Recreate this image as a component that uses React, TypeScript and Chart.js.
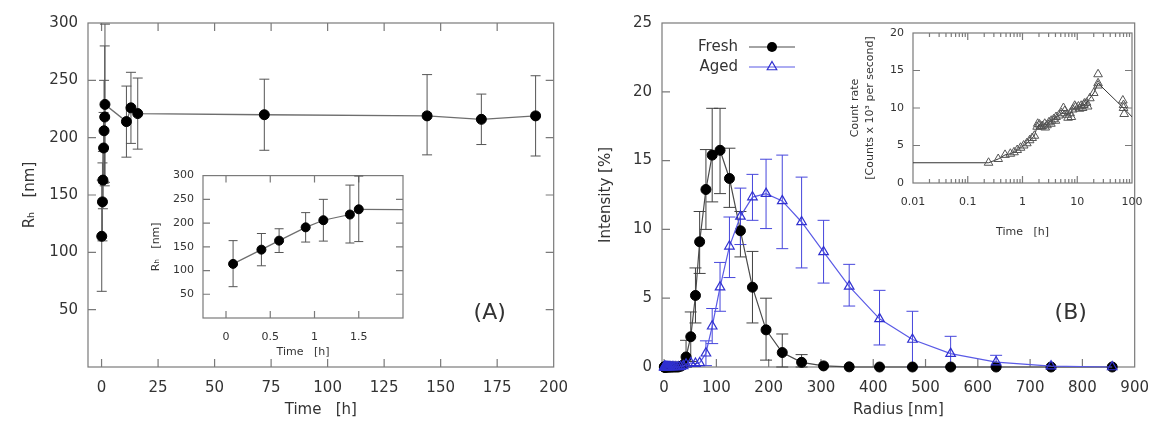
import React, { useEffect, useRef } from 'react';
import { Chart, registerables } from 'chart.js';

Chart.register(...registerables);

const FONT = "'DejaVu Sans', Verdana, sans-serif";
const TEXT = '#333333';
const FRAME = '#7a7a7a';

// ---------------- Panel A : hydrodynamic radius vs time ----------------
const timeA = [0.08, 0.4, 0.6, 0.9, 1.1, 1.4, 1.5, 11, 13, 16, 72, 144, 168, 192];
const rhA = [114, 144, 163, 191, 206, 218, 229, 214, 226, 221, 220, 219, 216, 219];
const rhLowA = [66, 110, 138, 160, 162, 158, 161, 183, 195, 190, 189, 185, 194, 184];
const rhHighA = [163, 178, 188, 222, 250, 280, 299, 245, 257, 252, 251, 255, 238, 254];
const xTicksA = [0, 25, 50, 75, 100, 125, 150, 175, 200];
const yTicksA = [50, 100, 150, 200, 250, 300];
const xTicksInsetA = [0, 0.5, 1, 1.5];
const yTicksInsetA = [50, 100, 150, 200, 250, 300];

// ---------------- Panel B : size distributions ----------------
const radiusB = [
  0.4, 0.6, 0.8, 1.0, 1.3, 1.6, 2.0, 2.5, 3.1, 3.8,
  4.7, 5.8, 7.1, 8.7, 10.6, 12.9, 15.6, 18.8, 22.6, 27.0,
  31.5, 36.5,
  42, 51, 60, 68, 80, 92, 107, 125, 146, 169,
  195, 226, 263, 305, 354, 412, 475, 548, 635, 740,
  857,
];
const freshB = [
  0, 0, 0, 0, 0, 0, 0, 0, 0, 0,
  0, 0, 0, 0, 0, 0, 0, 0, 0, 0,
  0.05, 0.15,
  0.73, 2.2, 5.2, 9.1, 12.9, 15.4, 15.75, 13.7, 9.9, 5.8,
  2.7, 1.05, 0.34, 0.08, 0.01, 0, 0, 0, 0, 0,
  0,
];
const freshLowB = [
  null, null, null, null, null, null, null, null, null, null,
  null, null, null, null, null, null, null, null, null, null,
  null, null,
  0, 0.4, 3.2, 6.8, 10.0, 12.0, 12.6, 11.6, 8.0, 3.2,
  0.5, 0, 0, null, null, null, null, null, null, null,
  null,
];
const freshHighB = [
  null, null, null, null, null, null, null, null, null, null,
  null, null, null, null, null, null, null, null, null, null,
  null, null,
  1.94, 4.0, 7.2, 11.3, 15.8, 18.8, 18.8, 15.9, 11.3, 8.4,
  5.0, 2.4, 0.9, null, null, null, null, null, null, null,
  null,
];
const agedB = [
  0, 0, 0, 0, 0, 0, 0, 0, 0, 0,
  0, 0, 0, 0, 0, 0, 0, 0, 0, 0,
  0.02, 0.08,
  0.2, 0.3, 0.25, 0.3, 1.0, 2.96, 5.8, 8.77, 10.95, 12.35,
  12.6, 12.07, 10.54, 8.36, 5.86, 3.5, 2.0, 0.97, 0.36, 0.06,
  0,
];
const agedLowB = [
  null, null, null, null, null, null, null, null, null, null,
  null, null, null, null, null, null, null, null, null, null,
  null, null,
  null, null, null, null, 0.1, 1.7, 4.05, 6.5, 8.9, 10.66,
  10.06, 8.6, 7.2, 6.1, 4.43, 1.6, 0, 0, 0, null,
  null,
];
const agedHighB = [
  null, null, null, null, null, null, null, null, null, null,
  null, null, null, null, null, null, null, null, null, null,
  null, null,
  null, null, null, null, 1.9, 4.25, 7.6, 10.9, 13.0, 14.0,
  15.1, 15.4, 13.8, 10.66, 7.46, 5.57, 4.05, 2.23, 0.85, null,
  null,
];
const xTicksB = [0, 100, 200, 300, 400, 500, 600, 700, 800, 900];
const yTicksB = [0, 5, 10, 15, 20, 25];

// ---------------- Inset B : count rate vs time (log) ----------------
const timeInsetB = [
  0.001, 0.24, 0.36, 0.48, 0.6, 0.7, 0.8, 0.92, 1.05, 1.2,
  1.35, 1.5, 1.65, 1.85, 2.05, 2.3, 2.55, 2.8, 3.05, 3.35,
  3.7, 4.1, 4.6, 5.2, 5.9, 6.6, 7.4, 8.3, 9.3, 10.5,
  11.8, 13.2, 14.8, 17, 20, 24, 70, 168,
];
const countInsetB = [
  2.7, 2.7, 3.2, 3.75, 3.9, 4.1, 4.4, 4.7, 5.0, 5.3,
  5.7, 6.0, 6.3, 7.5, 7.8, 7.6, 7.9, 7.7, 8.1, 8.3,
  8.5, 8.8, 9.0, 9.3, 9.6, 9.1, 9.3, 9.8, 10.1, 10.2,
  10.3, 10.4, 10.7, 11.3, 12.0, 13.3, 10.0, 7.1,
];
const timeExtraB = [1.9, 2.2, 2.6, 3.3, 4.0, 5.6, 6.8, 7.8, 9.0, 11.0, 12.5, 13.5, 15.5, 24, 24, 68, 72, 70];
const countExtraB = [7.9, 7.5, 7.4, 7.9, 8.3, 10.0, 8.7, 8.8, 10.3, 9.9, 10.0, 10.6, 10.2, 14.5, 13.0, 11.0, 9.2, 10.4];
const xTicksInsetB = [0.01, 0.1, 1, 10, 100];
const xTickLabelsInsetB = ['0.01', '0.1', '1', '10', '100'];
const yTicksInsetB = [0, 5, 10, 15, 20];

// ---------------- helpers ----------------
type AxisOpts = {
  type?: string;
  min: number;
  max: number;
  ticks: number[];
  labels?: string[];
  fontSize: number;
  pad: number;
  fit: number;
  horizontal: boolean;
  title: string | string[];
  titleSize: number;
  titlePad: { top: number; bottom: number };
  titleLineHeight?: number;
};

const mkAxis = (o: AxisOpts) => ({
  type: o.type ?? 'linear',
  min: o.min,
  max: o.max,
  afterBuildTicks: (s: any) => {
    s.ticks = o.ticks.map((v) => ({ value: v }));
  },
  afterFit: (s: any) => {
    if (o.horizontal) s.height = o.fit;
    else s.width = o.fit;
  },
  grid: { display: false, drawTicks: false },
  border: { display: false },
  ticks: {
    padding: o.pad,
    autoSkip: false,
    maxRotation: 0,
    minRotation: 0,
    color: TEXT,
    font: { family: FONT, size: o.fontSize },
    callback: (v: any, i: number) => (o.labels ? o.labels[i] : String(v)),
  },
  title: {
    display: true,
    text: o.title,
    color: TEXT,
    font: { family: FONT, size: o.titleSize, lineHeight: o.titleLineHeight ?? 1.2 },
    padding: o.titlePad,
  },
});

const framePlugin = (mirror: boolean, len: number, minorX: number[] = [], minorLen = 4) => ({
  id: 'gnuplotFrame',
  beforeDatasetsDraw(chart: any) {
    const { ctx, chartArea: a, scales } = chart;
    const xs = scales.x;
    const ys = scales.y;
    ctx.save();
    ctx.strokeStyle = FRAME;
    ctx.lineWidth = 1.2;
    ctx.beginPath();
    const seg = (x1: number, y1: number, x2: number, y2: number) => {
      ctx.moveTo(x1, y1);
      ctx.lineTo(x2, y2);
    };
    const inside = (p: number, lo: number, hi: number) => p > lo + 1 && p < hi - 1;
    xs.ticks.forEach((t: any) => {
      const p = xs.getPixelForValue(t.value);
      if (!inside(p, a.left, a.right)) return;
      seg(p, a.bottom, p, a.bottom - len);
      if (mirror) seg(p, a.top, p, a.top + len);
    });
    minorX.forEach((v) => {
      const p = xs.getPixelForValue(v);
      if (!inside(p, a.left, a.right)) return;
      seg(p, a.bottom, p, a.bottom - minorLen);
      if (mirror) seg(p, a.top, p, a.top + minorLen);
    });
    ys.ticks.forEach((t: any) => {
      const p = ys.getPixelForValue(t.value);
      if (!inside(p, a.top, a.bottom)) return;
      seg(a.left, p, a.left + len, p);
      if (mirror) seg(a.right, p, a.right - len, p);
    });
    ctx.stroke();
    ctx.strokeRect(a.left, a.top, a.right - a.left, a.bottom - a.top);
    ctx.restore();
  },
});

const errorBarPlugin = (cap: number) => ({
  id: 'errorBars',
  beforeDatasetsDraw(chart: any) {
    const { ctx, chartArea: a, scales } = chart;
    const xs = scales.x;
    const ys = scales.y;
    ctx.save();
    ctx.beginPath();
    ctx.rect(a.left, a.top - 1, a.right - a.left, a.bottom - a.top + 2);
    ctx.clip();
    chart.data.datasets.forEach((ds: any) => {
      if (!ds.errLow) return;
      ctx.strokeStyle = ds.errColor;
      ctx.lineWidth = 1;
      ctx.beginPath();
      ds.data.forEach((pt: any, j: number) => {
        const lo = ds.errLow[j];
        const hi = ds.errHigh[j];
        if (lo == null || hi == null) return;
        const px = xs.getPixelForValue(pt.x);
        const pl = ys.getPixelForValue(lo);
        const ph = ys.getPixelForValue(hi);
        ctx.moveTo(px, pl);
        ctx.lineTo(px, ph);
        ctx.moveTo(px - cap, pl);
        ctx.lineTo(px + cap, pl);
        ctx.moveTo(px - cap, ph);
        ctx.lineTo(px + cap, ph);
      });
      ctx.stroke();
    });
    ctx.restore();
  },
});

const panelLabel = (text: string, dx: number, dy: number) => ({
  id: 'panelLabel',
  afterDraw(chart: any) {
    const { ctx, chartArea: a } = chart;
    ctx.save();
    ctx.font = `22px ${FONT}`;
    ctx.fillStyle = TEXT;
    ctx.textAlign = 'center';
    ctx.textBaseline = 'middle';
    ctx.fillText(text, a.right - dx, a.bottom - dy);
    ctx.restore();
  },
});

const keyPlugin = {
  id: 'gnuplotKey',
  afterDatasetsDraw(chart: any) {
    const { ctx, chartArea: a } = chart;
    ctx.save();
    chart.data.datasets.forEach((ds: any, i: number) => {
      const y = a.top + 24 + 20 * i;
      ctx.font = `15px ${FONT}`;
      ctx.fillStyle = TEXT;
      ctx.textAlign = 'right';
      ctx.textBaseline = 'middle';
      ctx.fillText(ds.label, a.left + 76, y);
      ctx.strokeStyle = ds.borderColor;
      ctx.lineWidth = ds.borderWidth;
      ctx.beginPath();
      ctx.moveTo(a.left + 87, y);
      ctx.lineTo(a.left + 133, y);
      ctx.stroke();
      const mx = a.left + 110;
      const r = ds.pointRadius;
      ctx.beginPath();
      if (ds.pointStyle === 'triangle') {
        for (let k = 0; k < 3; k++) {
          const ang = (k * 2 * Math.PI) / 3;
          const px = mx + Math.sin(ang) * r;
          const py = y - Math.cos(ang) * r;
          if (k === 0) ctx.moveTo(px, py);
          else ctx.lineTo(px, py);
        }
        ctx.closePath();
        ctx.strokeStyle = ds.pointBorderColor;
        ctx.lineWidth = ds.pointBorderWidth;
        ctx.stroke();
      } else {
        ctx.arc(mx, y, r, 0, Math.PI * 2);
        ctx.fillStyle = ds.pointBackgroundColor;
        ctx.fill();
      }
    });
    ctx.restore();
  },
};

// ---------------- chart configs ----------------
const pairs = (xs: number[], ys: number[]) => xs.map((x, i) => ({ x, y: ys[i] }));

const baseOptions = (padding: any) => ({
  responsive: false,
  animation: false,
  devicePixelRatio: 1,
  layout: { padding, autoPadding: false },
  plugins: { legend: { display: false }, tooltip: { enabled: false } },
});

const makeMainA = () => ({
  type: 'line',
  data: {
    datasets: [
      {
        label: 'Rh',
        data: pairs(timeA, rhA),
        errLow: rhLowA,
        errHigh: rhHighA,
        errColor: '#555555',
        borderColor: '#6e6e6e',
        borderWidth: 1.3,
        pointRadius: 5,
        pointBackgroundColor: '#000000',
        pointBorderColor: '#000000',
        pointBorderWidth: 1,
        tension: 0,
        clip: false,
      },
    ],
  },
  options: {
    ...baseOptions({ top: 23, right: 19, left: 0, bottom: 0 }),
    scales: {
      x: mkAxis({
        min: -6, max: 200, ticks: xTicksA, fontSize: 15, pad: 12, fit: 57, horizontal: true,
        title: 'Time   [h]', titleSize: 15, titlePad: { top: 0, bottom: 5 },
      }),
      y: mkAxis({
        min: 0, max: 300, ticks: yTicksA, fontSize: 15, pad: 10, fit: 88, horizontal: false,
        title: 'Rₕ   [nm]', titleSize: 15, titlePad: { top: 21, bottom: 0 },
      }),
    },
  },
  plugins: [framePlugin(true, 8), errorBarPlugin(5), panelLabel('(A)', 64, 54)],
});

const makeInsetA = () => ({
  type: 'line',
  data: {
    datasets: [
      {
        label: 'Rh',
        data: pairs(timeA, rhA),
        errLow: rhLowA,
        errHigh: rhHighA,
        errColor: '#555555',
        borderColor: '#6e6e6e',
        borderWidth: 1.2,
        pointRadius: 4.5,
        pointBackgroundColor: '#000000',
        pointBorderColor: '#000000',
        pointBorderWidth: 1,
        tension: 0,
        clip: 0,
      },
    ],
  },
  options: {
    ...baseOptions({ top: 13, right: 17, left: 0, bottom: 0 }),
    scales: {
      x: mkAxis({
        min: -0.26, max: 2, ticks: xTicksInsetA, fontSize: 11, pad: 13, fit: 52, horizontal: true,
        title: 'Time   [h]', titleSize: 11, titlePad: { top: 0, bottom: 11 },
      }),
      y: mkAxis({
        min: 0, max: 300, ticks: yTicksInsetA, fontSize: 11, pad: 9, fit: 83, horizontal: false,
        title: 'Rₕ   [nm]', titleSize: 11, titlePad: { top: 30, bottom: 0 },
      }),
    },
  },
  plugins: [framePlugin(true, 7), errorBarPlugin(4.5)],
});

const makeMainB = () => ({
  type: 'line',
  data: {
    datasets: [
      {
        label: 'Fresh',
        order: 1,
        data: pairs(radiusB, freshB),
        errLow: freshLowB,
        errHigh: freshHighB,
        errColor: '#404040',
        borderColor: '#4a4a4a',
        borderWidth: 1.2,
        pointStyle: 'circle',
        pointRadius: 5,
        pointBackgroundColor: '#000000',
        pointBorderColor: '#000000',
        pointBorderWidth: 1,
        tension: 0,
        clip: false,
      },
      {
        label: 'Aged',
        order: 0,
        data: pairs(radiusB, agedB),
        errLow: agedLowB,
        errHigh: agedHighB,
        errColor: '#4646dc',
        borderColor: '#5a5ae6',
        borderWidth: 1.2,
        pointStyle: 'triangle',
        pointRadius: 5.5,
        pointBackgroundColor: 'rgba(0,0,0,0)',
        pointBorderColor: '#3030d0',
        pointBorderWidth: 1.2,
        tension: 0,
        clip: false,
      },
    ],
  },
  options: {
    ...baseOptions({ top: 23, right: 17, left: 0, bottom: 0 }),
    scales: {
      x: mkAxis({
        min: -4, max: 900, ticks: xTicksB, fontSize: 15, pad: 12, fit: 57, horizontal: true,
        title: 'Radius [nm]', titleSize: 15, titlePad: { top: 0, bottom: 5 },
      }),
      y: mkAxis({
        min: 0, max: 25, ticks: yTicksB, fontSize: 15, pad: 10, fit: 82, horizontal: false,
        title: 'Intensity [%]', titleSize: 15, titlePad: { top: 17, bottom: 0 },
      }),
    },
  },
  plugins: [framePlugin(false, 8), errorBarPlugin(6), keyPlugin, panelLabel('(B)', 64, 54)],
});

const minorInsetB: number[] = [];
xTicksInsetB.slice(0, -1).forEach((d) => {
  for (let k = 2; k <= 9; k++) minorInsetB.push(k * d);
});

const makeInsetB = () => ({
  type: 'line',
  data: {
    datasets: [
      {
        label: 'Count rate',
        data: pairs(timeInsetB, countInsetB),
        borderColor: '#333333',
        borderWidth: 1,
        pointStyle: 'triangle',
        pointRadius: 5,
        pointBackgroundColor: 'rgba(0,0,0,0)',
        pointBorderColor: '#555555',
        pointBorderWidth: 1,
        tension: 0,
        clip: 0,
      },
      {
        label: 'Count rate (repeats)',
        data: pairs(timeExtraB, countExtraB),
        showLine: false,
        pointStyle: 'triangle',
        pointRadius: 5,
        pointBackgroundColor: 'rgba(0,0,0,0)',
        pointBorderColor: '#555555',
        pointBorderWidth: 1,
        clip: 0,
      },
    ],
  },
  options: {
    ...baseOptions({ top: 23, right: 28, left: 0, bottom: 0 }),
    scales: {
      x: mkAxis({
        type: 'logarithmic', min: 0.01, max: 100, ticks: xTicksInsetB, labels: xTickLabelsInsetB,
        fontSize: 11, pad: 13, fit: 97, horizontal: true,
        title: 'Time   [h]', titleSize: 11, titlePad: { top: 0, bottom: 41 },
      }),
      y: mkAxis({
        min: 0, max: 20, ticks: yTicksInsetB, fontSize: 11, pad: 9, fit: 83, horizontal: false,
        title: ['Count rate', '[Counts x 10³ per second]'], titleSize: 11, titleLineHeight: 1.36,
        titlePad: { top: 18, bottom: 0 },
      }),
    },
  },
  plugins: [framePlugin(true, 7, minorInsetB, 4)],
});

// ---------------- components ----------------
type Box = { left: number; top: number; width: number; height: number };

function ChartBox({ box, make }: { box: Box; make: () => any }) {
  const ref = useRef<HTMLCanvasElement>(null);
  useEffect(() => {
    const chart = new Chart(ref.current as HTMLCanvasElement, make());
    return () => chart.destroy();
  }, []);
  return (
    <canvas
      ref={ref}
      width={box.width}
      height={box.height}
      style={{ position: 'absolute', left: box.left, top: box.top, width: box.width, height: box.height }}
    />
  );
}

export default function App() {
  return (
    <div
      style={{
        position: 'absolute',
        left: 0,
        top: 0,
        width: 1161,
        height: 424,
        background: '#ffffff',
        overflow: 'hidden',
      }}
    >
      <ChartBox box={{ left: 0, top: 0, width: 580, height: 424 }} make={makeMainA} />
      <ChartBox box={{ left: 120, top: 160, width: 300, height: 210 }} make={makeInsetA} />
      <ChartBox box={{ left: 580, top: 0, width: 581, height: 424 }} make={makeMainB} />
      <ChartBox box={{ left: 830, top: 10, width: 330, height: 270 }} make={makeInsetB} />
    </div>
  );
}
